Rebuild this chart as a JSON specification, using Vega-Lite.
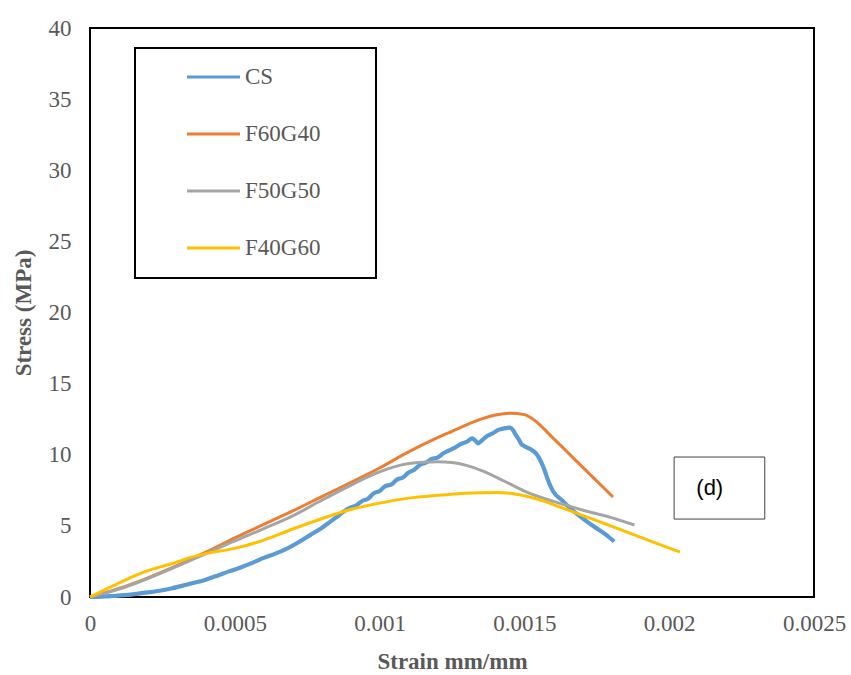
{
  "$schema": "https://vega.github.io/schema/vega-lite/v6.json",
  "width": 724,
  "height": 569,
  "autosize": "none",
  "padding": {"left": 90, "top": 28, "right": 37, "bottom": 78},
  "background": "white",
  "datasets": {
    "curves": [
      {"series":"CS","strain":0,"stress":0},
      {"series":"CS","strain":0.00004,"stress":0.02},
      {"series":"CS","strain":0.00008,"stress":0.07},
      {"series":"CS","strain":0.00012,"stress":0.13},
      {"series":"CS","strain":0.00016,"stress":0.22},
      {"series":"CS","strain":0.0002,"stress":0.32},
      {"series":"CS","strain":0.00024,"stress":0.44},
      {"series":"CS","strain":0.00028,"stress":0.6},
      {"series":"CS","strain":0.00032,"stress":0.8},
      {"series":"CS","strain":0.00036,"stress":1.0},
      {"series":"CS","strain":0.0004,"stress":1.22},
      {"series":"CS","strain":0.00044,"stress":1.5},
      {"series":"CS","strain":0.00048,"stress":1.8},
      {"series":"CS","strain":0.00052,"stress":2.08},
      {"series":"CS","strain":0.00056,"stress":2.4},
      {"series":"CS","strain":0.0006,"stress":2.75},
      {"series":"CS","strain":0.00064,"stress":3.05},
      {"series":"CS","strain":0.00068,"stress":3.4},
      {"series":"CS","strain":0.00072,"stress":3.85},
      {"series":"CS","strain":0.00076,"stress":4.35},
      {"series":"CS","strain":0.0008,"stress":4.85},
      {"series":"CS","strain":0.00083,"stress":5.3},
      {"series":"CS","strain":0.00086,"stress":5.75},
      {"series":"CS","strain":0.00089,"stress":6.2},
      {"series":"CS","strain":0.00092,"stress":6.45},
      {"series":"CS","strain":0.00094,"stress":6.75},
      {"series":"CS","strain":0.00096,"stress":6.9},
      {"series":"CS","strain":0.00098,"stress":7.3},
      {"series":"CS","strain":0.001,"stress":7.45},
      {"series":"CS","strain":0.00102,"stress":7.8},
      {"series":"CS","strain":0.00104,"stress":7.9},
      {"series":"CS","strain":0.00106,"stress":8.25},
      {"series":"CS","strain":0.00108,"stress":8.4},
      {"series":"CS","strain":0.0011,"stress":8.75},
      {"series":"CS","strain":0.00112,"stress":8.95},
      {"series":"CS","strain":0.00114,"stress":9.3},
      {"series":"CS","strain":0.00116,"stress":9.45},
      {"series":"CS","strain":0.00118,"stress":9.7},
      {"series":"CS","strain":0.0012,"stress":9.8},
      {"series":"CS","strain":0.00122,"stress":10.1},
      {"series":"CS","strain":0.00124,"stress":10.3},
      {"series":"CS","strain":0.00126,"stress":10.5},
      {"series":"CS","strain":0.00128,"stress":10.75},
      {"series":"CS","strain":0.0013,"stress":10.9},
      {"series":"CS","strain":0.00132,"stress":11.15},
      {"series":"CS","strain":0.00133,"stress":11.0},
      {"series":"CS","strain":0.00134,"stress":10.8},
      {"series":"CS","strain":0.00135,"stress":10.95},
      {"series":"CS","strain":0.00137,"stress":11.3},
      {"series":"CS","strain":0.00139,"stress":11.5},
      {"series":"CS","strain":0.00141,"stress":11.75},
      {"series":"CS","strain":0.00143,"stress":11.85},
      {"series":"CS","strain":0.00145,"stress":11.9},
      {"series":"CS","strain":0.00146,"stress":11.75},
      {"series":"CS","strain":0.00147,"stress":11.4},
      {"series":"CS","strain":0.00148,"stress":11.1},
      {"series":"CS","strain":0.00149,"stress":10.75},
      {"series":"CS","strain":0.0015,"stress":10.6},
      {"series":"CS","strain":0.00152,"stress":10.4},
      {"series":"CS","strain":0.00154,"stress":10.1},
      {"series":"CS","strain":0.00155,"stress":9.8},
      {"series":"CS","strain":0.00156,"stress":9.4},
      {"series":"CS","strain":0.00157,"stress":8.9},
      {"series":"CS","strain":0.00158,"stress":8.3},
      {"series":"CS","strain":0.00159,"stress":7.8},
      {"series":"CS","strain":0.0016,"stress":7.4},
      {"series":"CS","strain":0.00163,"stress":6.8},
      {"series":"CS","strain":0.00166,"stress":6.2},
      {"series":"CS","strain":0.0017,"stress":5.55},
      {"series":"CS","strain":0.00174,"stress":4.95},
      {"series":"CS","strain":0.00178,"stress":4.4},
      {"series":"CS","strain":0.00181,"stress":3.9},

      {"series":"F60G40","strain":0,"stress":0},
      {"series":"F60G40","strain":0.0001,"stress":0.6},
      {"series":"F60G40","strain":0.0002,"stress":1.35},
      {"series":"F60G40","strain":0.0003,"stress":2.2},
      {"series":"F60G40","strain":0.0004,"stress":3.15},
      {"series":"F60G40","strain":0.0005,"stress":4.15},
      {"series":"F60G40","strain":0.0006,"stress":5.1},
      {"series":"F60G40","strain":0.0007,"stress":6.05},
      {"series":"F60G40","strain":0.0008,"stress":7.05},
      {"series":"F60G40","strain":0.0009,"stress":8.05},
      {"series":"F60G40","strain":0.001,"stress":9.07},
      {"series":"F60G40","strain":0.0011,"stress":10.2},
      {"series":"F60G40","strain":0.0012,"stress":11.2},
      {"series":"F60G40","strain":0.00125,"stress":11.65},
      {"series":"F60G40","strain":0.0013,"stress":12.1},
      {"series":"F60G40","strain":0.00135,"stress":12.5},
      {"series":"F60G40","strain":0.0014,"stress":12.8},
      {"series":"F60G40","strain":0.00145,"stress":12.92},
      {"series":"F60G40","strain":0.0015,"stress":12.82},
      {"series":"F60G40","strain":0.00153,"stress":12.5},
      {"series":"F60G40","strain":0.0016,"stress":11.15},
      {"series":"F60G40","strain":0.0017,"stress":9.15},
      {"series":"F60G40","strain":0.0018,"stress":7.15},
      {"series":"F60G40","strain":0.001806,"stress":7.03},

      {"series":"F50G50","strain":0,"stress":0},
      {"series":"F50G50","strain":0.0001,"stress":0.55},
      {"series":"F50G50","strain":0.0002,"stress":1.3},
      {"series":"F50G50","strain":0.0003,"stress":2.15},
      {"series":"F50G50","strain":0.0004,"stress":3.05},
      {"series":"F50G50","strain":0.0005,"stress":3.95},
      {"series":"F50G50","strain":0.0006,"stress":4.8},
      {"series":"F50G50","strain":0.0007,"stress":5.7},
      {"series":"F50G50","strain":0.0008,"stress":6.8},
      {"series":"F50G50","strain":0.0009,"stress":7.85},
      {"series":"F50G50","strain":0.00095,"stress":8.35},
      {"series":"F50G50","strain":0.001,"stress":8.8},
      {"series":"F50G50","strain":0.00105,"stress":9.15},
      {"series":"F50G50","strain":0.0011,"stress":9.38},
      {"series":"F50G50","strain":0.00115,"stress":9.48},
      {"series":"F50G50","strain":0.0012,"stress":9.5},
      {"series":"F50G50","strain":0.00125,"stress":9.45},
      {"series":"F50G50","strain":0.0013,"stress":9.25},
      {"series":"F50G50","strain":0.00135,"stress":8.9},
      {"series":"F50G50","strain":0.0014,"stress":8.45},
      {"series":"F50G50","strain":0.00145,"stress":7.95},
      {"series":"F50G50","strain":0.0015,"stress":7.45},
      {"series":"F50G50","strain":0.00155,"stress":7.05},
      {"series":"F50G50","strain":0.0016,"stress":6.72},
      {"series":"F50G50","strain":0.00165,"stress":6.42},
      {"series":"F50G50","strain":0.0017,"stress":6.12},
      {"series":"F50G50","strain":0.0018,"stress":5.58},
      {"series":"F50G50","strain":0.00188,"stress":5.06},

      {"series":"F40G60","strain":0,"stress":0},
      {"series":"F40G60","strain":0.00005,"stress":0.5},
      {"series":"F40G60","strain":0.0001,"stress":0.98},
      {"series":"F40G60","strain":0.00015,"stress":1.45},
      {"series":"F40G60","strain":0.0002,"stress":1.85},
      {"series":"F40G60","strain":0.00025,"stress":2.15},
      {"series":"F40G60","strain":0.0003,"stress":2.45},
      {"series":"F40G60","strain":0.00035,"stress":2.8},
      {"series":"F40G60","strain":0.0004,"stress":3.05},
      {"series":"F40G60","strain":0.0005,"stress":3.42},
      {"series":"F40G60","strain":0.0006,"stress":4.0},
      {"series":"F40G60","strain":0.0007,"stress":4.78},
      {"series":"F40G60","strain":0.0008,"stress":5.5},
      {"series":"F40G60","strain":0.0009,"stress":6.15},
      {"series":"F40G60","strain":0.001,"stress":6.6},
      {"series":"F40G60","strain":0.0011,"stress":6.95},
      {"series":"F40G60","strain":0.0012,"stress":7.15},
      {"series":"F40G60","strain":0.0013,"stress":7.3},
      {"series":"F40G60","strain":0.0014,"stress":7.35},
      {"series":"F40G60","strain":0.00145,"stress":7.3},
      {"series":"F40G60","strain":0.0015,"stress":7.12},
      {"series":"F40G60","strain":0.00155,"stress":6.85},
      {"series":"F40G60","strain":0.0016,"stress":6.5},
      {"series":"F40G60","strain":0.00165,"stress":6.12},
      {"series":"F40G60","strain":0.0017,"stress":5.74},
      {"series":"F40G60","strain":0.0018,"stress":4.98},
      {"series":"F40G60","strain":0.0019,"stress":4.21},
      {"series":"F40G60","strain":0.002,"stress":3.44},
      {"series":"F40G60","strain":0.002037,"stress":3.16}
    ],
    "note": [
      {"label":"(d)","x1":0.002017,"x2":0.00233,"y1":9.84,"y2":5.48,"tx":0.00214,"ty":7.66}
    ]
  },
  "layer": [
    {
      "data": {"name": "curves"},
      "mark": {"type": "line", "interpolate": "monotone"},
      "encoding": {
        "x": {
          "field": "strain", "type": "quantitative",
          "scale": {"domain": [0, 0.0025], "nice": false, "zero": false},
          "axis": {"title": "Strain mm/mm", "values": [0, 0.0005, 0.001, 0.0015, 0.002, 0.0025], "format": "~g", "labelPadding": 15, "titlePadding": 15}
        },
        "y": {
          "field": "stress", "type": "quantitative",
          "scale": {"domain": [0, 40], "nice": false},
          "axis": {"title": "Stress (MPa)", "values": [0, 5, 10, 15, 20, 25, 30, 35, 40], "labelPadding": 19, "titlePadding": 13}
        },
        "strokeWidth": {"condition": {"test": "datum.series === 'CS'", "value": 4.2}, "value": 3},
        "color": {
          "field": "series", "type": "nominal",
          "scale": {"domain": ["CS", "F60G40", "F50G50", "F40G60"], "range": ["#5B9BD5", "#ED7D31", "#A5A5A5", "#FFC000"]},
          "legend": {
            "title": ".",
            "titleOrient": "right",
            "titlePadding": 32,
            "titleOpacity": 0,
            "titleFont": "Liberation Serif",
            "titleFontSize": 23,
            "orient": "none",
            "legendX": 45,
            "legendY": 20,
            "symbolType": "M-2.65,0H2.65",
            "symbolSize": 400,
            "symbolStrokeWidth": 3,
            "symbolOffset": 49.5,
            "labelOffset": 20,
            "rowPadding": 33,
            "padding": 17.5,
            "strokeColor": "black",
            "labelFont": "Liberation Serif",
            "labelFontSize": 23,
            "labelColor": "#595959",
            "labelLimit": 400
          }
        }
      }
    },
    {
      "data": {"name": "note"},
      "mark": {"type": "rect", "fill": "white", "stroke": "#404040", "strokeWidth": 1},
      "encoding": {
        "x": {"field": "x1", "type": "quantitative"},
        "x2": {"field": "x2"},
        "y": {"field": "y1", "type": "quantitative"},
        "y2": {"field": "y2"}
      }
    },
    {
      "data": {"name": "note"},
      "mark": {"type": "text", "font": "Liberation Sans", "fontSize": 22, "color": "black", "align": "center", "baseline": "middle"},
      "encoding": {
        "x": {"field": "tx", "type": "quantitative"},
        "y": {"field": "ty", "type": "quantitative"},
        "text": {"field": "label"}
      }
    }
  ],
  "config": {
    "view": {"stroke": "black", "strokeWidth": 2},
    "axis": {
      "grid": false, "ticks": false, "domain": false,
      "labelFont": "Liberation Serif", "labelFontSize": 23, "labelColor": "#595959",
      "titleFont": "Liberation Serif", "titleFontSize": 23, "titleColor": "#595959", "titleFontWeight": "bold",
      "labelFlush": false, "labelOverlap": false, "labelBound": false
    },
    "legend": {"strokeWidth": 2}
  }
}
